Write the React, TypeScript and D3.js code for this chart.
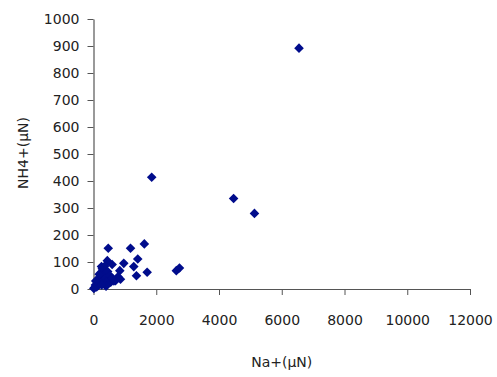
import React from 'react';
import * as d3 from 'd3';

// Na+ (µN) values on the x axis, NH4+ (µN) values on the y axis
const naValues = [
  6550, 1855, 4465, 5130, 1620, 1710, 2640, 2740, 470, 1180,
  440, 965, 1410, 1283, 838, 1369, 860, 700, 255, 594, 780,
  30, 60, 100, 120, 160, 200, 220, 250, 280, 300, 330, 360, 380,
  420, 450, 480, 520, 550, 600, 650, 400, 180, 140, 70, 10, 260,
];
const nh4Values = [
  892, 414, 335, 280, 167, 62, 68, 78, 151, 151,
  105, 95, 111, 83, 68, 49, 36, 31, 83, 91, 45,
  5, 15, 8, 25, 35, 20, 45, 60, 75, 30, 55, 85, 40,
  20, 65, 35, 50, 25, 40, 30, 10, 55, 12, 30, 2, 15,
];
const xTicks = [0, 2000, 4000, 6000, 8000, 10000, 12000];
const yTicks = [0, 100, 200, 300, 400, 500, 600, 700, 800, 900, 1000];

const width = 497;
const height = 377;
const margin = { top: 19, right: 27, bottom: 88, left: 93.5 };
const font = '"DejaVu Sans", Verdana, sans-serif';

const App: React.FC = () => {
  const svgRef = React.useRef<SVGSVGElement>(null);

  React.useEffect(() => {
    const xScale = d3
      .scaleLinear()
      .domain([0, 12000])
      .range([margin.left, width - margin.right]);
    const yScale = d3
      .scaleLinear()
      .domain([0, 1000])
      .range([height - margin.bottom, margin.top]);

    const svg = d3.select(svgRef.current);
    svg.selectAll('*').remove();

    // y axis
    const yAxisGroup = svg
      .append('g')
      .attr('transform', `translate(${margin.left},0)`)
      .call(
        d3.axisLeft(yScale).tickValues(yTicks).tickSize(6).tickPadding(8).tickSizeOuter(0).tickFormat(d3.format('d'))
      );
    // x axis
    const xAxisGroup = svg
      .append('g')
      .attr('transform', `translate(0,${height - margin.bottom})`)
      .call(
        d3.axisBottom(xScale).tickValues(xTicks).tickSize(6).tickPadding(20).tickSizeOuter(0).tickFormat(d3.format('d'))
      );

    [xAxisGroup, yAxisGroup].forEach((g) => {
      g.select('.domain').attr('stroke', '#555').attr('stroke-width', 1.2);
      g.selectAll('.tick line').attr('stroke', '#555');
      g.selectAll('text')
        .attr('fill', '#222')
        .attr('font-family', font)
        .attr('font-size', 14);
    });

    // axis titles
    svg
      .append('text')
      .attr('x', (margin.left + width - margin.right) / 2)
      .attr('y', 367)
      .attr('text-anchor', 'middle')
      .attr('font-family', font)
      .attr('font-size', 14)
      .attr('fill', '#222')
      .text('Na+(µN)');
    svg
      .append('text')
      .attr('transform', `translate(28,153) rotate(-90)`)
      .attr('text-anchor', 'middle')
      .attr('font-family', font)
      .attr('font-size', 14)
      .attr('fill', '#222')
      .text('NH4+(µN)');

    // diamond markers
    const diamond = d3.symbol(d3.symbolSquare, 46)();
    svg
      .append('g')
      .selectAll('path')
      .data(naValues.map((v, i) => [v, nh4Values[i]]))
      .enter()
      .append('path')
      .attr('d', diamond)
      .attr('transform', (d) => `translate(${xScale(d[0])},${yScale(d[1])}) rotate(45)`)
      .attr('fill', '#000c8c');
  }, []);

  return (
    <svg
      ref={svgRef}
      width={width}
      height={height}
      style={{ position: 'absolute', left: 0, top: 0, background: '#fff' }}
    />
  );
};

export default App;
